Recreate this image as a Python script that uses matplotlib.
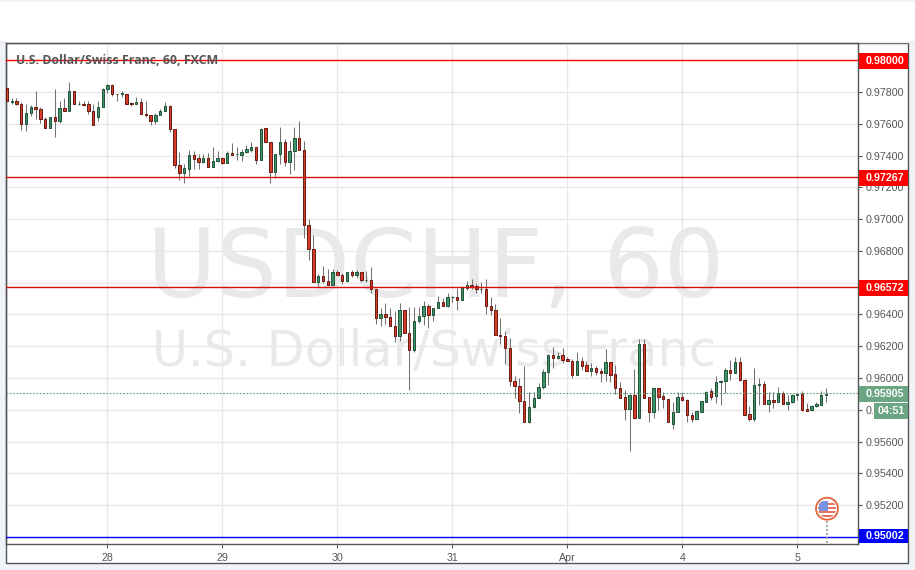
import matplotlib
matplotlib.use("Agg")
import matplotlib.pyplot as plt
from matplotlib.patches import Rectangle, Circle

# Hourly OHLC, in units of 0.00001 CHF, first candle sits 21 bars before the "28" tick
first_bar = -21
opens = [97825,97740,97744,97726,97599,97667,97707,97694,97632,97574,97644,97617,97701,97680,97809,97724,97726,97726,97680,97642,97705,
97817,97846,97788,97788,97788,97730,97724,97738,97663,97657,97617,97655,97682,97715,97570,97343,97293,97318,97401,97382,97362,97382,97330,97364,97382,97355,97414,97407,97405,97420,97437,97457,97374,97572,97488,97299,97407,97488,97362,97432,97512,97434,96966,96811,
96603,96643,96612,96584,96668,96649,96610,96668,96649,96668,96614,96618,96561,96377,96404,96383,96326,96263,96429,96284,96175,96358,96389,96454,96396,96442,96480,96452,96509,96511,96490,96564,96587,96580,96559,96561,96454,96429,96272,96265,96190,95982,95951,95856,95722,95817,95875,95943,96037,
96143,96128,96143,96118,96110,96022,96105,96080,96047,96061,96045,96034,96099,96024,95936,95879,95802,95892,95751,96212,95879,95783,95936,95885,95867,95708,95785,95879,95860,95766,95745,95789,95852,95917,95885,95973,95980,96049,96034,96099,95986,95772,95745,95953,95963,95839,95862,95852,95904,95839,95848,95890,95900,95804,95798,95821,95833,95890]
highs = [97825,97763,97763,97740,97728,97719,97809,97703,97644,97644,97819,97742,97765,97865,97809,97746,97744,97744,97728,97746,97825,
97852,97850,97788,97807,97788,97738,97771,97765,97742,97657,97669,97694,97740,97721,97570,97422,97345,97434,97430,97411,97409,97416,97455,97428,97393,97426,97480,97453,97441,97468,97484,97457,97576,97576,97488,97407,97578,97503,97490,97583,97621,97495,96998,96903,
96654,96708,96689,96689,96683,96662,96668,96679,96683,96668,96675,96696,96561,96442,96473,96442,96419,96473,96429,96448,96448,96448,96484,96463,96442,96519,96505,96536,96519,96568,96578,96612,96626,96599,96605,96626,96511,96463,96375,96297,96253,96012,96001,96073,95911,95911,95966,96054,96150,
96193,96166,96189,96130,96118,96162,96135,96105,96093,96078,96066,96183,96099,96080,95976,95927,95900,96055,96244,96244,95879,95936,95936,95911,95867,95852,95909,95915,95867,95789,95800,95854,95919,95936,96013,95988,96061,96114,96135,96135,95992,95821,96061,95999,95980,95915,95915,95946,95921,95892,95900,95900,95919,95841,95831,95846,95921,95938]
lows = [97742,97728,97717,97561,97555,97649,97632,97605,97574,97574,97518,97605,97680,97680,97724,97721,97711,97665,97592,97617,97705,
97794,97773,97742,97769,97724,97711,97724,97661,97644,97592,97599,97655,97682,97551,97324,97249,97230,97274,97314,97316,97353,97330,97330,97362,97345,97353,97405,97374,97368,97416,97424,97349,97374,97486,97230,97258,97345,97332,97287,97308,97434,96880,96742,96603,
96572,96599,96584,96584,96649,96589,96603,96637,96631,96603,96603,96536,96337,96326,96343,96326,96226,96232,96284,95924,96163,96347,96331,96312,96358,96438,96452,96446,96480,96427,96490,96553,96561,96532,96532,96400,96396,96270,96217,96085,95949,95875,95779,95722,95714,95808,95873,95930,95959,
96066,96118,96095,96110,96001,96022,96051,96047,96015,96019,95976,95980,95976,95900,95877,95733,95538,95751,95751,95877,95720,95751,95800,95814,95720,95682,95785,95858,95726,95726,95745,95783,95852,95862,95841,95831,95904,95988,96034,95978,95768,95728,95728,95831,95837,95783,95812,95852,95837,95800,95841,95862,95795,95791,95793,95816,95833,95846]
closes = [97742,97744,97726,97599,97669,97707,97694,97630,97574,97644,97617,97701,97680,97809,97724,97726,97721,97680,97592,97707,97821,
97844,97788,97786,97792,97724,97726,97738,97661,97653,97617,97657,97682,97715,97570,97343,97293,97320,97401,97380,97362,97382,97330,97364,97382,97355,97414,97405,97409,97420,97439,97457,97374,97570,97486,97299,97407,97488,97362,97432,97512,97434,96966,96811,96603,
96643,96610,96584,96668,96649,96610,96668,96649,96668,96616,96618,96561,96379,96404,96383,96326,96263,96429,96284,96175,96360,96391,96454,96396,96442,96480,96452,96511,96511,96490,96570,96587,96576,96559,96561,96452,96427,96270,96263,96188,95980,95949,95854,95722,95819,95875,95945,96039,96146,
96128,96141,96116,96110,96022,96105,96078,96047,96061,96040,96034,96099,96022,95934,95877,95802,95892,95751,96212,95877,95783,95936,95883,95865,95720,95785,95879,95860,95764,95745,95791,95854,95915,95883,95973,95980,96049,96034,96099,95986,95768,95745,95955,95963,95839,95860,95852,95904,95839,95850,95892,95900,95800,95793,95823,95835,95892,95900]

price_ticks = [0.952,0.954,0.956,0.958,0.960,0.962,0.964,0.966,0.968,0.970,0.972,0.974,0.976,0.978]
price_labels = ["0.95200","0.95400","0.95600","0.","0.96000","0.96200","0.96400","","0.96800","0.97000","0.97200","0.97400","0.97600","0.97800"]
day_bars = [0,24,48,72,96,120,144]
day_labels = ["28","29","30","31","Apr","4","5"]
levels = [0.98000,0.97267,0.96572]
support = 0.95002
last_price = 0.95905
wm_big = "USDCHF, 60"
wm_small = "U.S. Dollar/Swiss Franc"
title = "U.S. Dollar/Swiss Franc, 60, FXCM"
countdown = "04:51"

W,H = 915,570
fig = plt.figure(figsize=(W/100,H/100),dpi=100,facecolor="white")
BG="#f0f4f8"; INK="#555555"
sans=["Liberation Sans","DejaVu Sans"]

def overlay(z):
    a=fig.add_axes([0,0,1,1],zorder=z); a.set_xlim(0,W); a.set_ylim(H,0); a.axis("off"); a.patch.set_alpha(0); return a

bg=overlay(0)
for (x,y,w,h) in [(0,0,W,2),(0,41,6,H-41),(908,41,W-908,H-41),(0,563,W,7)]:
    bg.add_patch(Rectangle((x,y),w,h,fc=BG,ec="none"))
bg.add_patch(Rectangle((6,43),902,520,fc="white",ec=INK,lw=1))
bg.plot([0,W],[41.5,41.5],color="#eeeeee",lw=1)

ax=fig.add_axes([6/W,1-544/H,(858-6)/W,(544-43)/H],zorder=2)
ax.patch.set_alpha(0)
ax.set_xlim((6-107.5)/4.79,(858-107.5)/4.79)
ax.set_ylim(0.98-483.7/15885,0.98+17.3/15885)
ax.set_axisbelow(True)
ax.grid(True,color="#e8e8e8",lw=1)
ax.yaxis.tick_right()
ax.set_yticks(price_ticks); ax.set_yticklabels(price_labels,fontsize=7.7,color=INK,family=sans)
ax.set_xticks(day_bars); ax.set_xticklabels(day_labels,fontsize=7.7,color=INK,family=sans)
ax.tick_params(axis="y",length=3,width=0.8,color=INK,pad=2.6)
ax.tick_params(axis="x",length=3,width=0.8,color=INK,pad=3.5)
for s in ax.spines.values(): s.set_color(INK); s.set_linewidth(1)

ax.text(147,297,wm_big,transform=bg.transData,ha="left",va="baseline",fontsize=68.5,color="#e9e9e9",zorder=1,family="DejaVu Sans")
ax.text(152,366,wm_small,transform=bg.transData,ha="left",va="baseline",fontsize=35.6,color="#e9e9e9",zorder=1,family="DejaVu Sans")

for i,(o,h,l,c) in enumerate(zip(opens,highs,lows,closes)):
    x=first_bar+i
    up=c>=o
    ax.vlines(x,l/1e5,h/1e5,color="#737373",lw=0.75,zorder=3)
    ax.bar(x,max(abs(c-o),1)/1e5,bottom=min(o,c)/1e5,width=0.5,
           fc="#3f9467" if up else "#d73b2a",ec="#1f5238" if up else "#66190f",lw=0.7,zorder=4)

ax.axhline(levels[0],color="#ff0000",lw=1,zorder=5)
for lv in levels[1:]:
    ax.axhline(lv,color="#d80d0d",lw=1,zorder=5)
ax.axhline(support,color="#0000ff",lw=1,zorder=5)
ax.axhline(last_price,color="#5c9a7a",lw=0.8,ls=(0,(1.5,1.5)),zorder=5)
ax.text(16,60,title,transform=bg.transData,ha="left",va="center",fontsize=8.9,color=INK,fontweight="bold",family="Open Sans",zorder=6)

ov=overlay(6)
def tag(v,y0,y1,col,x0=859):
    ov.add_patch(Rectangle((x0,y0),908-x0,y1-y0,fc=col,ec="none"))
    ov.text(865.5,(y0+y1)/2,v,ha="left",va="center",fontsize=7.7,color="white",fontweight="bold",family=sans)
tag(f"{levels[0]:.5f}",53,69,"#ff0000")
tag(f"{levels[1]:.5f}",170,185.5,"#ff0000")
tag(f"{levels[2]:.5f}",280,296,"#ff0000")
tag(f"{support:.5f}",529,543,"#0000ff")
tag(f"{last_price:.5f}",386,402,"#6ba583",x0=858.5)
ov.add_patch(Rectangle((874,403),34,15.5,fc="#6ba583",ec="none"))
ov.text(891,411,countdown,ha="center",va="center",fontsize=7.7,color="white",fontweight="bold",family=sans)

# event marker
ov.plot([827,827],[521,544],color="#999999",lw=1.2,ls=(0,(1.2,1.2)))
c=Circle((827,508.7),11,fc="white",ec="#e8643c",lw=1.3); ov.add_patch(c)
clip=Circle((827,508.7),9,transform=ov.transData)
for y,h_,col in [(503,2,"#e8735a"),(507,2,"#e8735a"),(511,2,"#e8735a"),(515,2.2,"#e8735a")]:
    r=Rectangle((818,y),18,h_,fc=col,ec="none"); ov.add_patch(r); r.set_clip_path(clip)
r=Rectangle((819,501),8.5,10,fc="#7b93e3",ec="none"); ov.add_patch(r); r.set_clip_path(clip)

fig.savefig("out.png",dpi=100,facecolor="white")
